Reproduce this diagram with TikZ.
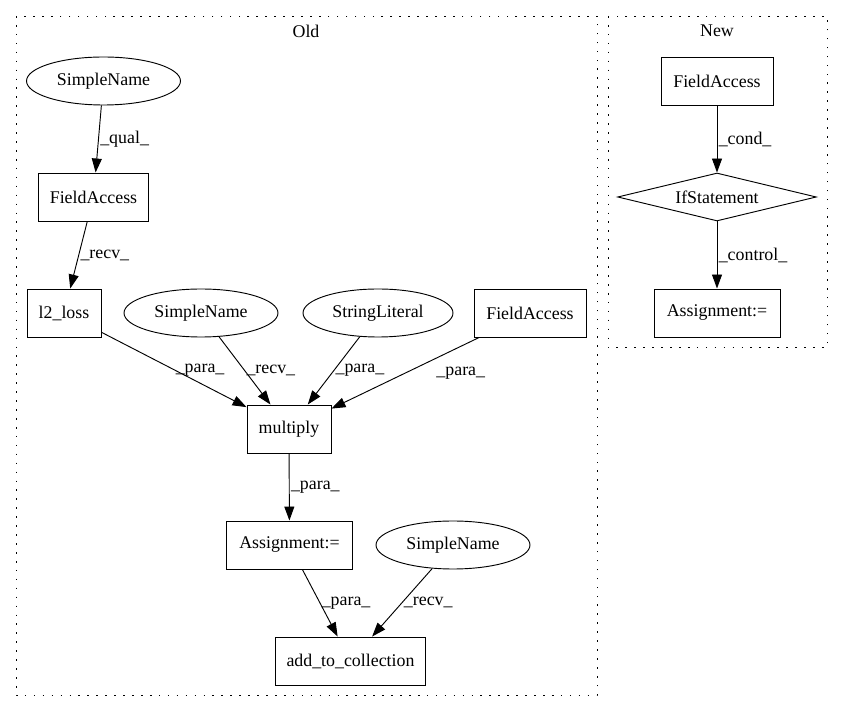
\documentclass[tikz,border=0pt]{standalone}
\usepackage{fontspec}
\setmainfont{Liberation Serif}
\usepackage{tikz}
\usetikzlibrary{shapes,arrows.meta,positioning}

\tikzset{
  base/.style={draw, inner sep=0pt, line width=0.7pt, font=\fontsize{13.4}{16}\selectfont, minimum height=36pt},
  box/.style={base, rectangle},
  oval/.style={base, ellipse},
  decision/.style={base, diamond, aspect=4},
  flow/.style={-{Triangle[length=10.5pt,width=7.5pt]}, line width=0.7pt},
  elabel/.style={pos=0.5, anchor=west, inner sep=1pt, font=\fontsize{13.4}{16}\selectfont},
  cluster/.style={dash pattern=on 1.2pt off 5.5pt, line width=0.7pt},
  title/.style={inner sep=0pt, font=\fontsize{13.4}{16}\selectfont}
}

\begin{document}
\begin{tikzpicture}[x=0.75pt, y=-0.75pt]
    \useasboundingbox (0,0) rectangle (843,712);
    % the two dotted clusters with their titles
    \draw[cluster] (16,16) rectangle (597,695);
    \draw[cluster] (608,16) rectangle (827,347);
    \node[title] (oldtitle) at (306,31) {Old};
    \node[title] (newtitle) at (717,31) {New};

    % old graph
    \node[oval, minimum width=115.5pt] (sn1) at (103.5,81) {SimpleName};
    \node[box, minimum width=83pt] (fa1) at (93.5,197) {FieldAccess};
    \node[box, minimum width=55.5pt] (l2) at (64,313) {l2\_loss};
    \node[oval, minimum width=115.5pt] (sn2) at (201,313) {SimpleName};
    \node[oval, minimum width=112.5pt] (strlit) at (378,313) {StringLiteral};
    \node[box, minimum width=84pt] (fa2) at (530,313) {FieldAccess};
    \node[box, minimum width=63pt] (mult) at (289,429) {multiply};
    \node[box, minimum width=94pt] (asgn) at (289.5,545) {Assignment:=};
    \node[oval, minimum width=115.5pt] (sn3) at (453,545) {SimpleName};
    \node[box, minimum width=113pt] (addcoll) at (350.5,661) {add\_to\_collection};

    \draw[flow] (sn1) -- (fa1) node[elabel] {\_qual\_};
    \draw[flow] (fa1) -- (l2) node[elabel] {\_recv\_};
    % everything that goes into multiply
    \foreach \src/\lbl/\dx in {l2/para/0, sn2/recv/0, strlit/para/0, fa2/para/22}
    {
        \draw[flow] (\src) -- (mult) node[elabel, xshift=\dx pt] {\_\lbl\_};
    }
    \draw[flow] (mult) -- (asgn) node[elabel] {\_para\_};
    \draw[flow] (asgn) -- (addcoll) node[elabel] {\_para\_};
    \draw[flow] (sn3) -- (addcoll) node[elabel] {\_recv\_};

    % new graph
    \node[box, minimum width=84pt] (fa3) at (717,81) {FieldAccess};
    \node[decision, minimum width=149pt] (ifst) at (717,197) {IfStatement};
    \node[box, minimum width=94.5pt] (asgn2) at (717,313) {Assignment:=};

    \draw[flow] (fa3) -- (ifst) node[elabel] {\_cond\_};
    \draw[flow] (ifst) -- (asgn2) node[elabel] {\_control\_};
\end{tikzpicture}
\end{document}
